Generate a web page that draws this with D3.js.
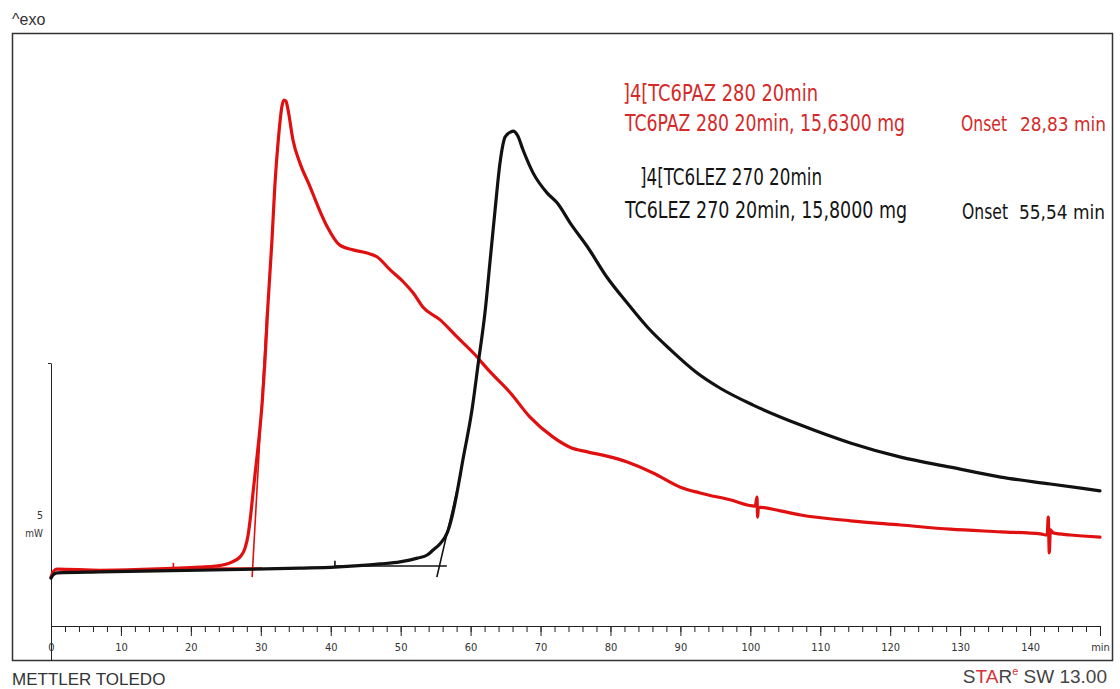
<!DOCTYPE html>
<html>
<head>
<meta charset="utf-8">
<script src="https://cdn.jsdelivr.net/npm/d3@7"></script>
<style>
  html, body { margin: 0; padding: 0; background: #fff; }
  svg { display: block; }
</style>
</head>
<body>
<svg id="chart" width="1120" height="689"></svg>
<script>
// DSC isothermal curves: heat flow (mW) against time (min)
const tc6pazCurve = [
  [0,0.93],[0.43,1.05],[0.86,1.08],[7.0,1.06],[14.2,1.08],[21.3,1.12],[23.5,1.14],
  [25.6,1.20],[27.0,1.31],[27.75,1.48],[28.2,1.74],[28.55,2.10],[28.9,2.55],[29.4,3.15],
  [29.8,3.65],[30.2,4.25],[30.6,5.05],[31.0,6.06],[31.6,7.34],[32.0,8.35],[32.5,9.24],[33.05,9.90],
  [33.3,10.0],[33.6,9.98],[33.9,9.81],[34.6,9.24],[35.6,8.80],[37.05,8.35],[38.2,7.97],
  [39.5,7.59],[41.3,7.24],[43.2,7.15],[45.2,7.09],[46.6,7.02],[48.5,6.77],[50.4,6.54],
  [51.8,6.33],[53.2,6.06],[55.65,5.82],[58.1,5.49],[60.4,5.19],[62.8,4.83],[65.7,4.43],
  [68.5,3.97],[71.8,3.59],[74.2,3.40],[76.7,3.31],[79.5,3.23],[82.4,3.12],[86.1,2.91],
  [90.0,2.64],[92.8,2.53],[97.1,2.40],[100.7,2.28],[100.95,2.45],[101.05,2.07],
  [101.15,2.26],[104.3,2.19],[107.2,2.11],[114.3,2.00],[121.5,1.92],[128.6,1.84],
  [135.8,1.79],[141.5,1.75],[142.45,1.73],[142.6,2.07],[142.75,1.39],[142.9,1.83],
  [143.3,1.77],[145.8,1.73],[150,1.69]
];
const tc6lezCurve = [
  [0,0.91],[0.29,0.97],[0.86,1.01],[7.0,1.03],[21.3,1.06],[35.6,1.10],[40.6,1.12],
  [47.1,1.18],[49.9,1.22],[52.4,1.29],[53.8,1.35],[54.6,1.44],[55.6,1.56],[56.65,1.77],
  [57.4,2.11],[58.05,2.53],[58.9,3.16],[60.2,4.11],[61.1,5.00],[62.1,6.01],[62.8,6.96],
  [63.5,7.91],[64.2,8.80],[64.95,9.30],[65.7,9.39],[66.1,9.41],[66.7,9.33],[67.5,9.05],
  [68.95,8.61],[70.96,8.23],[72.4,8.04],[74.25,7.66],[76.7,7.21],[79.5,6.63],[82.4,6.14],
  [85.3,5.68],[88.6,5.25],[92.4,4.81],[95.7,4.52],[100.4,4.20],[107.2,3.82],[114.3,3.48],
  [121.5,3.21],[128.6,3.02],[135.8,2.83],[142.9,2.70],[150,2.57]
];

// Onset evaluation: onset time, baseline level, tangent slope (mW/min), baseline span, limit mark
const onsetTimes = [28.83, 55.54];
const baselineLevels = [1.10, 1.14];
const tangentSlopes = [2.39, 0.57];
const tangentTops = [6.0, 2.9];
const baselineSpans = [[17.5, 30.2], [40.6, 56.6]];
const limitMarks = [[17.5, 1.08], [40.6, 1.12]];

// Legend texts
const sampleTitles = ["]4[TC6PAZ 280 20min", "]4[TC6LEZ 270 20min"];
const sampleLabels = ["TC6PAZ 280 20min, 15,6300 mg", "TC6LEZ 270 20min, 15,8000 mg"];
const onsetLabels = ["28,83 min", "55,54 min"];

// Axis ticks
const majorTicks = [0,10,20,30,40,50,60,70,80,90,100,110,120,130,140,150];
const minorTicks = d3.range(0, 151, 2);
const scaleBarValue = 5;

const colors = ["#e01010", "#111111"];
const textColors = ["#d42a2a", "#141414"];
const curves = [tc6pazCurve, tc6lezCurve];

const svg = d3.select("#chart");
svg.append("rect").attr("width", 1120).attr("height", 689).attr("fill", "#fff");

const frame = { x0: 12, y0: 33, x1: 1112, y1: 660 };

const x = d3.scaleLinear().domain([0, 150]).range([51, 1100]);
const y = d3.scaleLinear().domain([0, 5]).range([626, 363]);

svg.append("defs").append("clipPath").attr("id", "frameClip")
  .append("rect")
  .attr("x", frame.x0).attr("y", frame.y0)
  .attr("width", frame.x1 - frame.x0).attr("height", frame.y1 - frame.y0);

// Frame
svg.append("rect")
  .attr("x", frame.x0 + 0.5).attr("y", frame.y0 + 0.5)
  .attr("width", frame.x1 - frame.x0).attr("height", frame.y1 - frame.y0)
  .attr("fill", "none").attr("stroke", "#333").attr("stroke-width", 1.5);

// X axis: minor ticks then labelled major ticks
const axisFont = "'DejaVu Sans Condensed', 'DejaVu Sans', sans-serif";
svg.append("g")
  .attr("transform", `translate(0,${y(0)})`)
  .call(d3.axisBottom(x).tickValues(minorTicks).tickSize(6).tickSizeOuter(0).tickFormat(""))
  .call(g => g.select(".domain").remove())
  .call(g => g.selectAll(".tick line").attr("stroke", "#222"));

svg.append("g")
  .attr("transform", `translate(0,${y(0)})`)
  .call(d3.axisBottom(x).tickValues(majorTicks).tickSize(10).tickSizeOuter(0).tickPadding(7)
    .tickFormat(d => d === 150 ? "min" : d))
  .call(g => g.select(".domain").attr("stroke", "#222").attr("stroke-width", 1.2))
  .call(g => g.selectAll(".tick line").attr("stroke", "#222"))
  .call(g => g.selectAll(".tick text").attr("fill", "#333")
    .attr("font-family", axisFont).attr("font-size", 11));

// Y scale bar, running from the frame bottom up to the 5 mW mark
const yBar = d3.scaleLinear().domain([y.invert(frame.y1), scaleBarValue]).range([frame.y1, y(scaleBarValue)]);
svg.append("g")
  .attr("transform", `translate(${x(0)},0)`)
  .call(d3.axisLeft(yBar).tickValues([scaleBarValue]).tickSize(3).tickSizeOuter(0).tickFormat(""))
  .call(g => g.select(".domain").attr("stroke", "#222"))
  .call(g => g.selectAll(".tick line").attr("stroke", "#222"));

svg.append("text").attr("x", 43).attr("y", 519).attr("text-anchor", "end")
  .attr("font-family", axisFont).attr("font-size", 10.5).attr("fill", "#333").text(scaleBarValue);
svg.append("text").attr("x", 43).attr("y", 537).attr("text-anchor", "end")
  .attr("font-family", axisFont).attr("font-size", 10).attr("fill", "#333").text("mW");

const plot = svg.append("g").attr("clip-path", "url(#frameClip)");

// Onset construction lines (baseline, inflection tangent, limit marks)
onsetTimes.forEach((t0, i) => {
  const b = baselineLevels[i], k = tangentSlopes[i];
  const vLow = 0.93, vHigh = tangentTops[i];
  const tangent = [[t0 + (vLow - b) / k, vLow], [t0 + (vHigh - b) / k, vHigh]];
  const base = baselineSpans[i].map(t => [t, b]);
  const mark = [limitMarks[i], [limitMarks[i][0], limitMarks[i][1] + 0.12]];
  [tangent, base, mark].forEach(seg => {
    plot.append("path")
      .datum(seg)
      .attr("d", d3.line().x(d => x(d[0])).y(d => y(d[1])))
      .attr("fill", "none").attr("stroke", colors[i]).attr("stroke-width", 1.6);
  });
});

// Curves
const line = d3.line().x(d => x(d[0])).y(d => y(d[1])).curve(d3.curveMonotoneX);
curves.forEach((c, i) => {
  plot.append("path")
    .datum(c)
    .attr("d", line)
    .attr("fill", "none")
    .attr("stroke", colors[i])
    .attr("stroke-width", 3.2)
    .attr("stroke-linejoin", "round")
    .attr("stroke-linecap", "round");
});

// Legend blocks: [x, baseline, width, font size]
const legendFont = "'DejaVu Sans Condensed', 'DejaVu Sans', sans-serif";
const legendRows = [
  { title: [623, 101, 195, 23], label: [625, 131, 280, 23], onset: [961, 131, 46, 21], value: [1020, 131, 86, 19.5] },
  { title: [640, 185, 182, 23], label: [625, 218, 282, 23], onset: [962, 219, 46, 21], value: [1019, 219, 86, 19.5] }
];
legendRows.forEach((r, i) => {
  const items = [
    [r.title, sampleTitles[i]], [r.label, sampleLabels[i]],
    [r.onset, "Onset"], [r.value, onsetLabels[i]]
  ];
  items.forEach(([p, s]) => {
    svg.append("text")
      .attr("x", p[0]).attr("y", p[1])
      .attr("textLength", p[2]).attr("lengthAdjust", "spacingAndGlyphs")
      .attr("font-family", legendFont).attr("font-size", p[3])
      .attr("fill", textColors[i]).text(s);
  });
});

// Header and footer texts
svg.append("text").attr("x", 12).attr("y", 25)
  .attr("font-family", "'Liberation Sans', Arial, sans-serif").attr("font-size", 16)
  .attr("fill", "#333").text("^exo");
svg.append("text").attr("x", 12).attr("y", 685)
  .attr("font-family", "'Liberation Sans', Arial, sans-serif").attr("font-size", 17)
  .attr("fill", "#333").text("METTLER TOLEDO");

const star = svg.append("text").attr("x", 1107).attr("y", 683).attr("text-anchor", "end")
  .attr("font-family", "'Liberation Sans', Arial, sans-serif").attr("font-size", 19)
  .attr("fill", "#444");
star.append("tspan").text("S");
star.append("tspan").attr("fill", "#d9303a").text("TA");
star.append("tspan").text("R");
star.append("tspan").attr("fill", "#d9303a").attr("font-size", 11).attr("dy", -8).text("e");
star.append("tspan").attr("dy", 8).text(" SW 13.00");
</script>
</body>
</html>
